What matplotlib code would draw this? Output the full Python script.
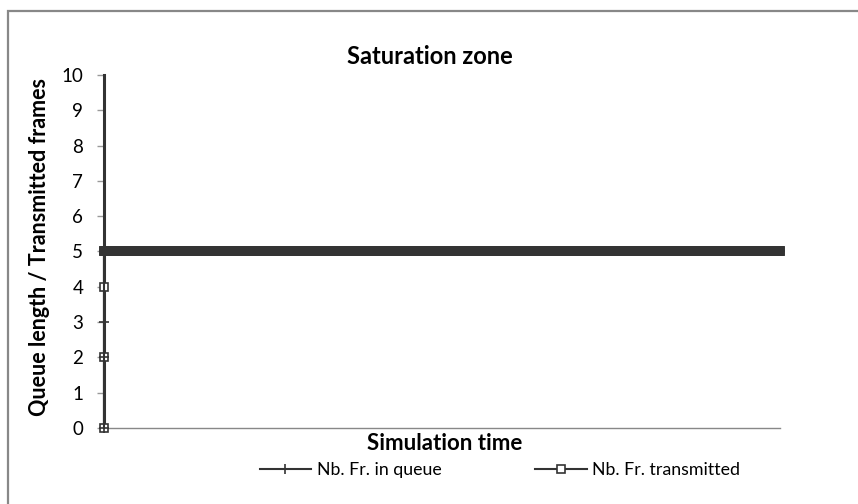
import matplotlib
matplotlib.use("Agg")
import matplotlib.pyplot as plt
from matplotlib.patches import Rectangle

plt.rcParams['font.family'] = ['Lato', 'DejaVu Sans']

# ---- data ----
n_steady = 1200
time = [0, 0, 0] + list(range(n_steady))
queue_values = [0, 2, 3] + [5] * n_steady
transmitted_values = [0, 2, 4] + [5] * n_steady
y_ticks = list(range(0, 11))
title = "Saturation zone"
x_label = "Simulation time"
y_label = "Queue length / Transmitted frames"
series_names = ["Nb. Fr. in queue", "Nb. Fr. transmitted"]

W, H = 858, 504
fig = plt.figure(figsize=(W / 100, H / 100), dpi=100)
fig.patch.set_facecolor('white')

# outer chart border (extends beyond right/bottom edge)
fig.patches.append(Rectangle((7.5 / W, -0.05), 1.0, 1 - 10.5 / H + 0.05,
                             transform=fig.transFigure, fill=False,
                             edgecolor='#888888', linewidth=1.6, zorder=0))

ax = fig.add_axes([104 / W, 1 - 428 / H, (780 - 104) / W, (428 - 75) / H])
dark = '#333333'

ax.plot(time, transmitted_values, color=dark, linewidth=1.5, marker='s',
        markersize=6.2, markerfacecolor='white', markeredgecolor=dark,
        markeredgewidth=1.2, clip_on=False, zorder=3,
        label=series_names[1])
# steady-state part: dense markers merge into a solid band
ax.plot(time[3:], transmitted_values[3:], color=dark, linewidth=1.5,
        marker='s', markersize=5.3, markerfacecolor=dark,
        markeredgecolor=dark, markeredgewidth=1.2, clip_on=False, zorder=3)
ax.plot(time, queue_values, color=dark, linewidth=1.5, marker='+',
        markersize=7.5, markeredgewidth=1.2, clip_on=False, zorder=4,
        label=series_names[0])

ax.set_xlim(0, n_steady - 1)
ax.set_ylim(0, 10)
ax.set_yticks(y_ticks)
ax.set_xticks([])
ax.tick_params(axis='y', direction='out', length=5, width=1, color='#999999',
               labelsize=13.5, labelcolor='black', pad=10)

for s in ['top', 'right']:
    ax.spines[s].set_visible(False)
ax.spines['left'].set_color(dark)
ax.spines['left'].set_linewidth(2.2)
ax.spines['bottom'].set_color('#888888')
ax.spines['bottom'].set_linewidth(1)

fig.text(430 / W, 1 - 57 / H, title, ha='center', va='center',
         fontsize=17, fontweight='bold')
fig.text(445 / W, 1 - 443 / H, x_label, ha='center', va='center',
         fontsize=16, fontweight='bold')
fig.text(40 / W, 1 - 247 / H, y_label, ha='center', va='center',
         rotation=90, fontsize=15.5, fontweight='bold')

h, l = ax.get_legend_handles_labels()
order = [1, 0]
leg = fig.legend([h[i] for i in order], [l[i] for i in order],
                 loc='center', bbox_to_anchor=(500 / W, 1 - 470 / H),
                 ncol=2, frameon=False, fontsize=12.8, handlelength=2.9,
                 handletextpad=0.3, columnspacing=5.3, markerscale=1.0,
                 borderaxespad=0, borderpad=0)

fig.savefig("out.png", dpi=100, facecolor='white')
